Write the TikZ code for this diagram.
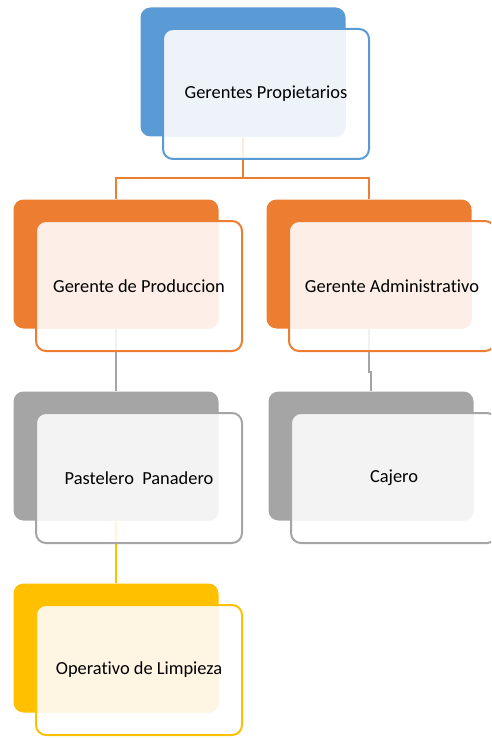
\documentclass[tikz,border=0pt]{standalone}
\usepackage{fontspec}
\setmainfont[Ligatures={NoCommon}]{Carlito}
\definecolor{cblue}{HTML}{5B9BD5}
\definecolor{lblue}{HTML}{EEF3FA}
\definecolor{corange}{HTML}{ED7D31}
\definecolor{lorange}{HTML}{FDEFE7}
\definecolor{cgray}{HTML}{A5A5A5}
\definecolor{lgray}{HTML}{F3F3F3}
\definecolor{cyellow}{HTML}{FFC000}
\definecolor{lyellow}{HTML}{FEF5E3}
\tikzset{
  backbox/.style={rectangle, rounded corners=10pt, minimum width=205pt, minimum height=129pt, inner sep=0pt, fill=#1},
  frontbox/.style={rectangle, rounded corners=10pt, minimum width=206pt, minimum height=130pt, inner sep=0pt,
    line width=2pt, draw=#1, fill=white, fill opacity=0.85, text opacity=1,
    font=\fontsize{18.4}{22}\selectfont, text=black},
  conn/.style={line width=2.2pt, draw=#1},
  lightpart/.style 2 args={path picture={\fill[#2, fill opacity=1, rounded corners=10pt] (#1.north west) rectangle (#1.south east);}},
}
\begin{document}
\begin{tikzpicture}[x=1pt,y=-1pt]
\clip (0,0) rectangle (491,738);
\fill[white] (0,0) rectangle (491,738);
% back boxes
\node[backbox=cblue]   (b1) at (243,72)  {};
\node[backbox=corange] (b2) at (116,264) {};
\node[backbox=corange] (b3) at (369,264) {};
\node[backbox=cgray]   (b4) at (116,456) {};
\node[backbox=cgray]   (b5) at (371,456) {};
\node[backbox=cyellow] (b6) at (116,648) {};
% connectors
\draw[conn=corange] (b1.south) -- ++(0,41.5) coordinate (j1) -| (b2.north);
\draw[conn=corange] (j1) -| (b3.north);
\draw[conn=cgray] (b2.south) -- (b4.north);
\draw[conn=cgray] (b3.south) -- ++(0,43) -| (b5.north);
\draw[conn=cyellow] (b4.south) -- (b6.north);
% front boxes
\node[frontbox=cblue, lightpart={b1}{lblue}]     (f1) at (266,94)  {Gerentes Propietarios};
\node[frontbox=corange, lightpart={b2}{lorange}] (f2) at (139,286) {Gerente de Produccion};
\node[frontbox=corange, lightpart={b3}{lorange}] (f3) at (392,286) {Gerente Administrativo};
\node[frontbox=cgray, lightpart={b4}{lgray}]     (f4) at (139,478) {Pastelero\ \ Panadero};
\node[frontbox=cgray, lightpart={b5}{lgray}]     (f5) at (394,478) {Cajero};
\node[frontbox=cyellow, lightpart={b6}{lyellow}] (f6) at (139,670) {Operativo de Limpieza};
\end{tikzpicture}
\end{document}
